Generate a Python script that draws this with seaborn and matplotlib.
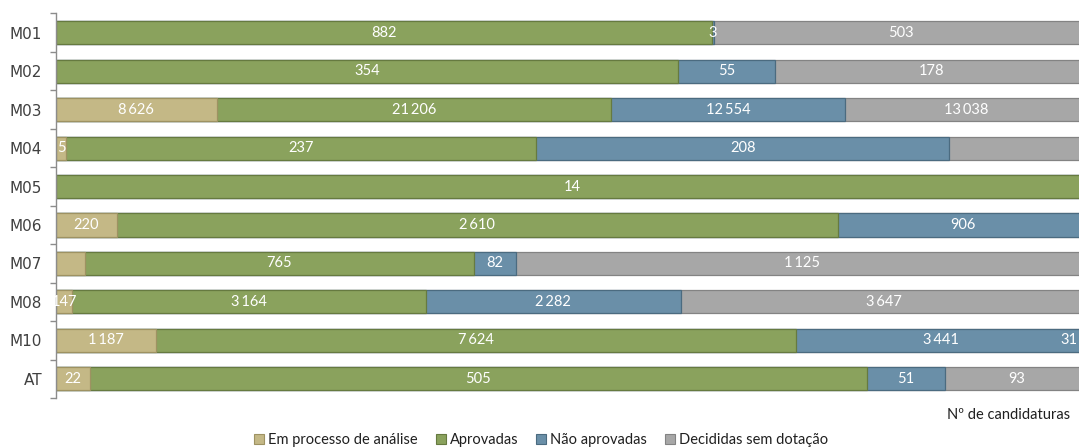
import numpy as np
import pandas as pd
import matplotlib
matplotlib.use("Agg")
import matplotlib.pyplot as plt
import seaborn as sns
from matplotlib.lines import Line2D

# ---- data -------------------------------------------------------------
categories = ["M01", "M02", "M03", "M04", "M05", "M06", "M07", "M08", "M10", "AT"]
series_names = ["Em processo de análise", "Aprovadas", "Não aprovadas", "Decididas sem dotação"]
em_processo = [0, 0, 8626, 5, 0, 220, 57, 147, 1187, 22]
aprovadas = [882, 354, 21206, 237, 14, 2610, 765, 3164, 7624, 505]
nao_aprovadas = [3, 55, 12554, 208, 0, 906, 82, 2282, 3441, 51]
sem_dotacao = [503, 178, 13038, 70, 0, 0, 1125, 3647, 31, 93]
# segment labels that are not shown in the reference (category, series index)
hidden_labels = {("M07", 0), ("M04", 3)}
x_axis_title = "Nº de candidaturas"

colors = ["#C4B886", "#8AA25D", "#6A8FA8", "#A7A7A7"]
edge_colors = ["#9E9262", "#667A40", "#4B6B80", "#838383"]

# ---- preparation --------------------------------------------------------
values = np.array([em_processo, aprovadas, nao_aprovadas, sem_dotacao], dtype=float)  # (4, n)
totals = values.sum(axis=0)
shares = values / totals
cum = np.cumsum(shares, axis=0)
starts = cum - shares

df = pd.DataFrame({"categoria": categories})
for i in range(4):
    df[f"cum{i}"] = cum[i]

def fmt(v):
    return f"{int(v):,}".replace(",", "\u2009")

# ---- figure ---------------------------------------------------------------
sns.set_theme(style="white")
plt.rcParams["font.family"] = ["DejaVu Sans"]

W, H = 1079, 448
fig = plt.figure(figsize=(W / 100, H / 100), dpi=100)
ax_left, ax_right, ax_top, ax_bottom = 56, 1088, 13.5, 398
ax = fig.add_axes([ax_left / W, 1 - ax_bottom / H, (ax_right - ax_left) / W, (ax_bottom - ax_top) / H])

for i in range(3, -1, -1):
    sns.barplot(data=df, x=f"cum{i}", y="categoria", order=categories, orient="h",
                color=colors[i], saturation=1, width=0.6, edgecolor=edge_colors[i],
                linewidth=0.9, ax=ax)

# visible right limit of the picture, in data units
x_visible = (W - 2 - ax_left) / (ax_right - ax_left)

# segment labels (labels that would overflow are kept inside the visible area)
for i in range(4):
    for j, cat in enumerate(categories):
        v = values[i, j]
        if v <= 0 or (cat, i) in hidden_labels:
            continue
        xc = starts[i, j] + shares[i, j] / 2
        if xc > 0.985:
            ax.text(x_visible, j, fmt(v), ha="right", va="center", color="white",
                    fontsize=10.5, family=["Lato", "DejaVu Sans"])
            continue
        ax.text(xc, j, fmt(v), ha="center", va="center", color="white",
                fontsize=10.5, family=["Lato", "DejaVu Sans"], clip_on=False)

ax.set_xlim(0, 1)
ax.set_ylim(len(categories) - 0.5, -0.5)
ax.set_xlabel("")
ax.set_ylabel("")
ax.set_xticks([])
for s in ["top", "right", "bottom"]:
    ax.spines[s].set_visible(False)
ax.spines["left"].set_color("#8C8C8C")
ax.spines["left"].set_linewidth(1.0)
ax.set_yticks(range(len(categories)))
ax.set_yticklabels(categories, fontsize=11, color="#404040")
ax.set_yticks(np.arange(-0.5, len(categories), 1.0), minor=True)
ax.tick_params(axis="y", which="major", length=0, pad=10)
ax.tick_params(axis="y", which="minor", length=4, color="#8C8C8C", width=1.0, left=True)

fig.text(1070 / W, 1 - 415 / H, x_axis_title, ha="right", va="center", fontsize=10.5,
         family=["Lato", "DejaVu Sans"], color="#202020")

handles = [Line2D([0], [0], marker="s", linestyle="none", markersize=7,
                  markerfacecolor=c, markeredgecolor=e, markeredgewidth=0.8)
           for c, e in zip(colors, edge_colors)]
fig.legend(handles, series_names, loc="center", bbox_to_anchor=(540 / W, 1 - 440 / H),
           ncol=4, frameon=False, handletextpad=0.1, columnspacing=1.1, handlelength=1.0,
           prop={"family": ["Lato", "DejaVu Sans"], "size": 10.5}, labelcolor="#202020")

fig.savefig("out.png", dpi=100)
